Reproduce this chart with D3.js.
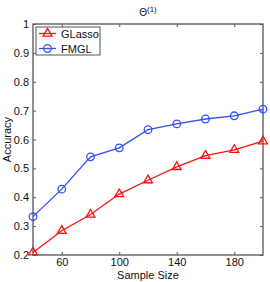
<!DOCTYPE html>
<html>
<head>
<meta charset="utf-8">
<script src="https://cdn.jsdelivr.net/npm/d3@7"></script>
<style>
  body { margin: 0; background: #fff; }
  svg { display: block; }
</style>
</head>
<body>
<svg></svg>
<script>
const sampleSizes = [40, 60, 80, 100, 120, 140, 160, 180, 200];
const glasso = [0.209, 0.284, 0.340, 0.411, 0.459, 0.505, 0.544, 0.564, 0.594];
const fmgl = [0.333, 0.428, 0.540, 0.571, 0.634, 0.654, 0.671, 0.682, 0.705];
const xTicks = [60, 100, 140, 180];
const yTicks = [0.2, 0.3, 0.4, 0.5, 0.6, 0.7, 0.8, 0.9, 1];

const WIDTH = 270;
const HEIGHT = 282;
const LEFT = 33;
const RIGHT = 263;
const TOP = 24;
const BOTTOM = 255;
const FONT = '"Liberation Sans", Arial, sans-serif';
const AXIS_COLOR = '#555';

const svg = d3.select('svg')
  .attr('width', WIDTH)
  .attr('height', HEIGHT)
  .attr('font-family', FONT);

const xScale = d3.scaleLinear().domain([40, 200]).range([LEFT, RIGHT]);
const yScale = d3.scaleLinear().domain([0.2, 1]).range([BOTTOM, TOP]);

// ticks (inside, mirrored like matlab box)
const xAxis = d3.axisBottom(xScale).tickValues(xTicks).tickSizeInner(-3).tickSizeOuter(0).tickPadding(3);
const gx = svg.append('g').attr('transform', `translate(0, ${BOTTOM})`).call(xAxis);
const xTop = d3.axisTop(xScale).tickValues(xTicks).tickSizeInner(-3).tickSizeOuter(0).tickFormat('');
const gxt = svg.append('g').attr('transform', `translate(0, ${TOP})`).call(xTop);

const yAxis = d3.axisLeft(yScale).tickValues(yTicks).tickSizeInner(-3).tickSizeOuter(0).tickPadding(4)
  .tickFormat(d => d3.format('.1~f')(d));
const gy = svg.append('g').attr('transform', `translate(${LEFT}, 0)`).call(yAxis);
const yRight = d3.axisRight(yScale).tickValues(yTicks).tickSizeInner(-3).tickSizeOuter(0).tickFormat('');
const gyr = svg.append('g').attr('transform', `translate(${RIGHT}, 0)`).call(yRight);

[gx, gxt, gy, gyr].forEach(g => {
  g.select('.domain').remove();
  g.selectAll('.tick line').attr('stroke', AXIS_COLOR);
  g.selectAll('text').attr('font-size', 11).attr('font-family', FONT).attr('fill', '#111');
});

svg.append('rect')
  .attr('x', LEFT).attr('y', TOP)
  .attr('width', RIGHT - LEFT).attr('height', BOTTOM - TOP)
  .attr('fill', 'none').attr('stroke', AXIS_COLOR).attr('stroke-width', 1.3);

// series
const series = [
  { name: 'GLasso', values: glasso, color: '#ff1010', marker: 'triangle' },
  { name: 'FMGL', values: fmgl, color: '#3050f8', marker: 'circle' }
];

const line = d3.line().x((d, i) => xScale(sampleSizes[i])).y(d => yScale(d));
const tri = d3.symbol().type(d3.symbolTriangle).size(34);

function drawMarker(g, s, x, y) {
  if (s.marker === 'circle') {
    g.append('circle').attr('cx', x).attr('cy', y).attr('r', 3.8)
      .attr('fill', 'none').attr('stroke', s.color).attr('stroke-width', 1.3);
  } else {
    g.append('path').attr('d', tri()).attr('transform', `translate(${x}, ${y})`)
      .attr('fill', 'none').attr('stroke', s.color).attr('stroke-width', 1.3);
  }
}

series.forEach(s => {
  const g = svg.append('g');
  g.append('path').datum(s.values).attr('d', line)
    .attr('fill', 'none').attr('stroke', s.color).attr('stroke-width', 1.3);
  s.values.forEach((v, i) => drawMarker(g, s, xScale(sampleSizes[i]), yScale(v)));
});

// legend
const legend = svg.append('g');
legend.append('rect').attr('x', 36).attr('y', 27).attr('width', 64).attr('height', 28)
  .attr('fill', '#fff').attr('stroke', AXIS_COLOR).attr('stroke-width', 1);
series.forEach((s, i) => {
  const y = 33.5 + i * 15;
  legend.append('line').attr('x1', 39).attr('x2', 56).attr('y1', y).attr('y2', y)
    .attr('stroke', s.color).attr('stroke-width', 1.3);
  drawMarker(legend, s, 47.5, y);
  legend.append('text').attr('x', 61).attr('y', y + 4).attr('font-size', 11)
    .attr('fill', '#111').text(s.name);
});

// titles
const title = svg.append('text').attr('x', 148).attr('y', 16).attr('text-anchor', 'middle')
  .attr('font-size', 10).attr('fill', '#111');
title.append('tspan').text('Θ');
title.append('tspan').attr('dy', -4).attr('font-size', 8).text('(1)');

svg.append('text').attr('x', (LEFT + RIGHT) / 2).attr('y', 279).attr('text-anchor', 'middle')
  .attr('font-size', 11).attr('fill', '#111').text('Sample Size');

svg.append('text').attr('transform', `translate(11, ${(TOP + BOTTOM) / 2}) rotate(-90)`)
  .attr('text-anchor', 'middle').attr('font-size', 11).attr('fill', '#111').text('Accuracy');
</script>
</body>
</html>
